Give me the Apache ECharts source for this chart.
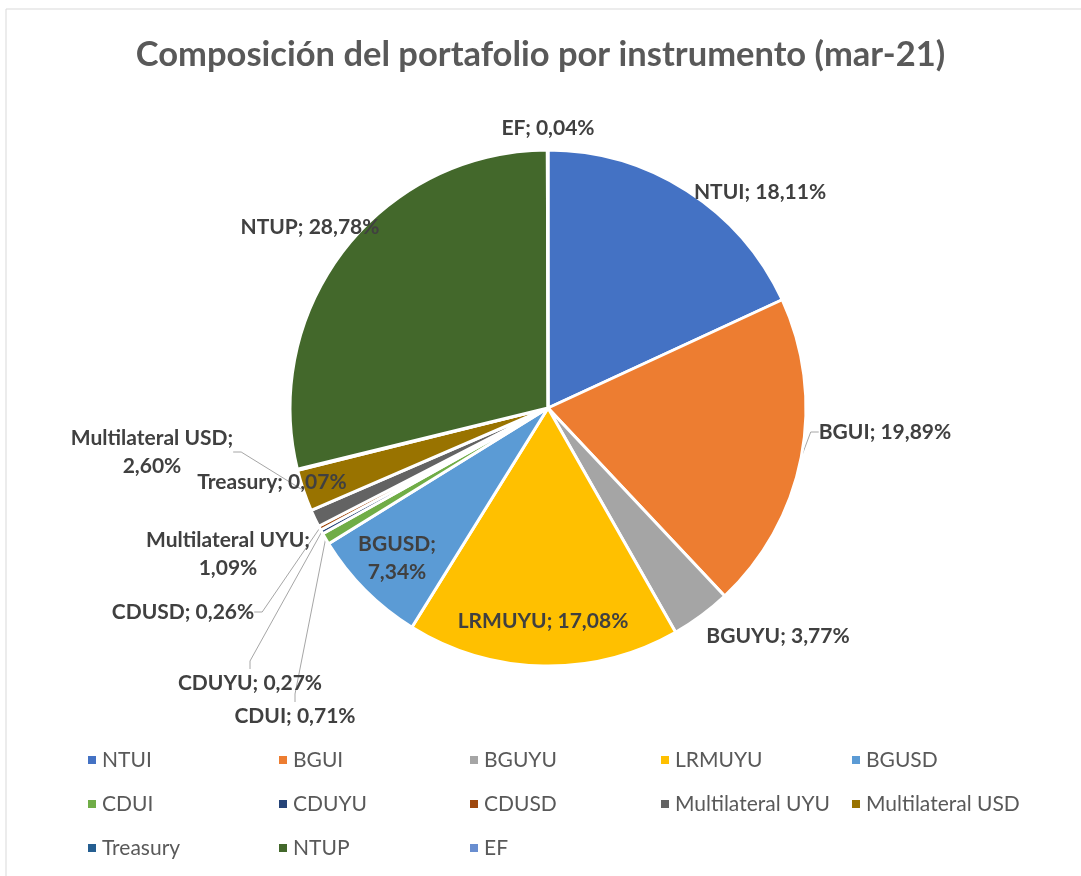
<!DOCTYPE html>
<html>
<head>
<meta charset="utf-8">
<script src="https://cdn.jsdelivr.net/npm/echarts@6/dist/echarts.min.js"></script>
<style>
  html, body { margin: 0; padding: 0; background: #fff; }
  #chart { width: 1081px; height: 876px; }
</style>
</head>
<body>
<div id="chart"></div>
<script>
// data
const names = ['NTUI', 'BGUI', 'BGUYU', 'LRMUYU', 'BGUSD', 'CDUI', 'CDUYU', 'CDUSD',
  'Multilateral UYU', 'Multilateral USD', 'Treasury', 'NTUP', 'EF']
const values = [18.11, 19.89, 3.77, 17.08, 7.34, 0.71, 0.27, 0.26, 1.09, 2.60, 0.07, 28.78, 0.04]
const colors = ['#4472C4', '#ED7D31', '#A5A5A5', '#FFC000', '#5B9BD5', '#70AD47', '#264478',
  '#9E480E', '#636363', '#997300', '#255E91', '#43682B', '#698ED0']

// where each label sits (pixel centre), like excel put them
const labelAt = {
  'NTUI': [760, 192],
  'BGUI': [885, 432],
  'BGUYU': [778, 636],
  'LRMUYU': [543, 621],
  'BGUSD': [397, 558],
  'CDUI': [295, 716],
  'CDUYU': [250, 683],
  'CDUSD': [183, 612],
  'Multilateral UYU': [228, 554],
  'Multilateral USD': [152, 452],
  'Treasury': [272, 482],
  'NTUP': [310, 227],
  'EF': [548, 128]
}
const insideLabels = ['NTUI', 'LRMUYU', 'BGUSD', 'NTUP']
const withLine = ['BGUI', 'CDUI', 'CDUYU', 'CDUSD', 'Multilateral USD']
const twoLines = ['BGUSD', 'Multilateral UYU', 'Multilateral USD']

const fmt = v => v.toFixed(2).replace('.', ',') + '%'

const chart = echarts.init(document.getElementById('chart'))
const option = {
  backgroundColor: '#fff',
  title: {
    text: 'Composición del portafolio por instrumento (mar-21)',
    left: 'center',
    top: 32,
    textStyle: { fontFamily: 'Lato', fontSize: 34.5, fontWeight: 'bold', color: '#595959' }
  },
  graphic: [{
    type: 'rect',
    shape: { x: 6, y: 9, width: 1200, height: 1000 },
    style: { fill: 'none', stroke: '#d9d9d9', lineWidth: 1 },
    silent: true
  }],
  legend: {
    data: names,
    left: 81,
    top: 738,
    width: 960,
    icon: 'rect',
    itemWidth: 10,
    itemHeight: 10,
    itemGap: 10,
    textStyle: { fontFamily: 'Lato', fontSize: 21, color: '#595959', width: 165, lineHeight: 34 }
  },
  series: [{
    type: 'pie',
    center: [548, 408],
    radius: 258,
    startAngle: 90,
    clockwise: true,
    avoidLabelOverlap: false,
    itemStyle: { borderColor: '#fff', borderWidth: 3 },
    label: {
      fontFamily: 'Lato',
      fontSize: 21,
      fontWeight: 'bold',
      color: '#404040',
      lineHeight: 28,
      overflow: 'none',
      formatter: p => twoLines.includes(p.name) ? p.name + ';\n' + fmt(p.value) : p.name + '; ' + fmt(p.value)
    },
    labelLine: {
      length: 8,
      length2: 8,
      lineStyle: { color: '#A6A6A6', width: 1 }
    },
    emphasis: { disabled: true },
    labelLayout: p => {
      const pos = labelAt[names[p.dataIndex]]
      return { x: pos[0], y: pos[1], align: 'center', verticalAlign: 'middle' }
    },
    data: names.map((n, i) => ({
      name: n,
      value: values[i],
      itemStyle: { color: colors[i] },
      label: { position: insideLabels.includes(n) ? 'inside' : 'outside' },
      labelLine: { show: withLine.includes(n) }
    }))
  }]
}
chart.setOption(option)
</script>
</body>
</html>
